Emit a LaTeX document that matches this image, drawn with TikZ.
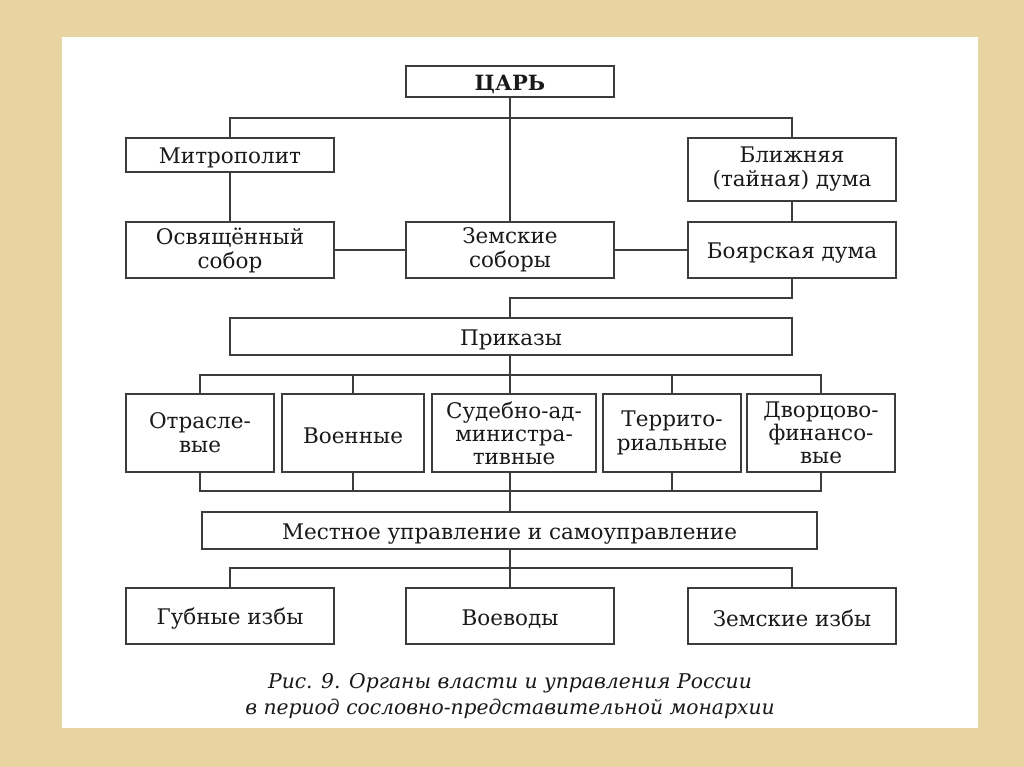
\documentclass[tikz,border=0pt]{standalone}
\usepackage{fontspec}
\setmainfont{DejaVu Serif}
\usetikzlibrary{calc}
\definecolor{bgtan}{RGB}{231,212,160}
\definecolor{linecol}{RGB}{60,60,60}
\definecolor{txtcol}{RGB}{25,25,25}
\tikzset{
  box/.style={draw=linecol, line width=1.5pt, fill=white, inner sep=0pt, align=center,
    text=txtcol, font=\fontsize{21.5}{24}\selectfont, anchor=center,
    execute at begin node={\rule{0pt}{22pt}}},
  conn/.style={draw=linecol, line width=1.5pt},
  captext/.style={text=txtcol, font=\fontsize{20.3}{23}\selectfont\itshape, anchor=center}
}
\begin{document}
\begin{tikzpicture}[x=1pt,y=-1pt]
\useasboundingbox (0,0) rectangle (1024,767);
\fill[bgtan] (0,0) rectangle (1024,767);
\fill[white] (62,37) rectangle (978,728);

% top level
\node[box, minimum width=208pt, minimum height=31pt, font=\fontsize{21}{23}\selectfont\bfseries] (tsar) at (510,81.5) {ЦАРЬ};
\node[box, minimum width=208pt, minimum height=34pt] (metro) at (230,155) {Митрополит};
\node[box, minimum width=208pt, minimum height=63pt] (blizh) at (792,169.5) {Ближняя\\(тайная) дума};
\node[box, minimum width=208pt, minimum height=56pt] (osv) at (230,250) {Освящённый\\собор};
\node[box, minimum width=208pt, minimum height=56pt] (zem) at (510,250) {Земские\\соборы};
\node[box, minimum width=208pt, minimum height=56pt] (boyar) at (792,250) {Боярская дума};

\node[box, minimum width=562pt, minimum height=37pt] (prik) at (511,336.5) {Приказы};

\node[box, minimum width=148pt, minimum height=78pt] (otr) at (200,433) {Отрасле-\\вые};
\node[box, minimum width=142pt, minimum height=78pt] (voen) at (353,433) {Военные};
\node[box, minimum width=164pt, minimum height=78pt, font=\fontsize{21.5}{23}\selectfont] (sud) at (514,433) {Судебно-ад-\\министра-\\тивные};
\node[box, minimum width=138pt, minimum height=78pt] (terr) at (672,433) {Террито-\\риальные};
\node[box, minimum width=148pt, minimum height=78pt, font=\fontsize{21.5}{23}\selectfont] (dvor) at (821,433) {Дворцово-\\финансо-\\вые};

\node[box, minimum width=615pt, minimum height=37pt] (mest) at (509.5,530.5) {Местное управление и самоуправление};

\node[box, minimum width=208pt, minimum height=56pt] (gub) at (230,616) {Губные избы};
\node[box, minimum width=208pt, minimum height=56pt] (voev) at (510,616) {Воеводы};
\node[box, minimum width=208pt, minimum height=56pt] (zemizb) at (792,616) {Земские избы};

% connectors
\coordinate (h1) at (510,118);
\coordinate (h2) at (510,298);
\coordinate (b1) at (510,375);
\coordinate (b2) at (510,491);
\coordinate (b3) at (510,568);

\draw[conn] (tsar.south) -- (zem.north);
\draw[conn] (metro.north) |- (h1) -| (blizh.north);
\draw[conn] (metro.south) -- (osv.north);
\draw[conn] (blizh.south) -- (boyar.north);
\draw[conn] (osv.east) -- (zem.west);
\draw[conn] (zem.east) -- (boyar.west);
\draw[conn] (boyar.south) |- (h2) -- (h2 |- prik.north);

\draw[conn] (h2 |- prik.south) -- (b1);
\draw[conn] (otr.north) |- (b1) -| (dvor.north);
\draw[conn] (voen.north) -- (voen.north |- b1);
\draw[conn] (b1) -- (b1 |- sud.north);
\draw[conn] (terr.north) -- (terr.north |- b1);

\draw[conn] (otr.south) |- (b2) -| (dvor.south);
\draw[conn] (voen.south) -- (voen.south |- b2);
\draw[conn] (terr.south) -- (terr.south |- b2);
\draw[conn] (b2 |- sud.south) -- (b2 |- mest.north);

\draw[conn] (b3 |- mest.south) -- (voev.north);
\draw[conn] (gub.north) |- (b3) -| (zemizb.north);

\node[captext] (cap1) at (510,683) {Рис. 9. Органы власти и управления России};
\node[captext] (cap2) at (510,709) {в период сословно-представительной монархии};
\end{tikzpicture}
\end{document}
